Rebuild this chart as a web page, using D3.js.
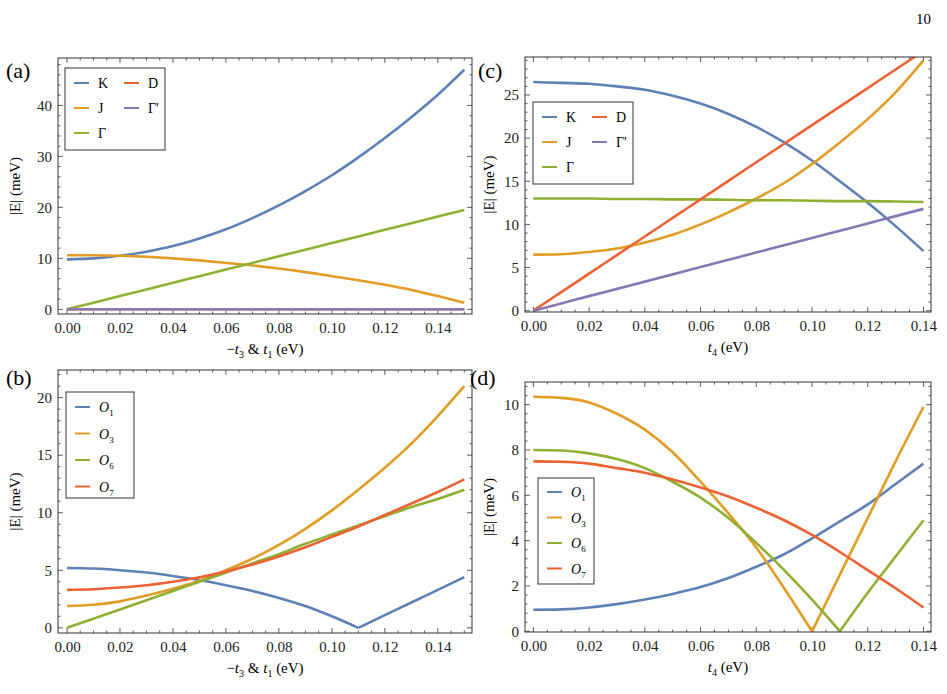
<!DOCTYPE html>
<html><head><meta charset="utf-8">
<script src="https://cdn.jsdelivr.net/npm/d3@7"></script>
<style>body{margin:0;background:#fff}svg text{font-family:"Liberation Serif","DejaVu Serif",serif !important}</style>
</head><body><svg id="c" width="947" height="694"></svg>
<script>
const colors=["#5E81B5","#E19C24","#8FB032","#EB6235","#8778B3"];
const xA=d3.range(16).map(i=>i/100);
const xC=d3.range(15).map(i=>i/100);
// panel (a)
const aK=[9.8,10.0,10.5,11.3,12.4,13.9,15.7,17.9,20.4,23.2,26.3,29.8,33.6,37.7,42.1,47.0];
const aJ=[10.6,10.6,10.5,10.3,10.0,9.6,9.1,8.6,8.0,7.3,6.5,5.7,4.8,3.8,2.6,1.3];
const aG=[0,1.3,2.6,3.9,5.2,6.5,7.8,9.1,10.4,11.7,13.0,14.3,15.6,16.9,18.2,19.5];
const aD=[0,0,0,0,0,0,0,0,0,0,0,0,0,0,0,0];
const aGp=[0,0,0,0,0,0,0,0,0,0,0,0,0,0,0,0];
// panel (b)
const bO1=[5.2,5.15,5.0,4.8,4.5,4.15,3.7,3.2,2.6,1.9,1.0,0,1.1,2.2,3.3,4.4];
const bO3=[1.9,2.0,2.3,2.8,3.4,4.1,5.0,6.0,7.2,8.6,10.2,12.0,13.9,16.0,18.4,21.0];
const bO6=[0,0.8,1.6,2.4,3.2,4.0,4.8,5.6,6.4,7.3,8.1,8.9,9.7,10.5,11.2,12.0];
const bO7=[3.3,3.35,3.5,3.7,4.0,4.4,4.9,5.5,6.2,7.0,7.9,8.8,9.8,10.8,11.8,12.9];
// panel (c)
const cK=[26.5,26.4,26.3,26.0,25.6,24.9,24.0,22.8,21.3,19.5,17.4,15.0,12.5,9.8,6.9];
const cJ=[6.5,6.55,6.8,7.2,7.9,8.8,10.0,11.4,13.0,14.8,17.0,19.5,22.2,25.3,29.0];
const cG=[13.0,13.0,13.0,12.95,12.95,12.9,12.9,12.85,12.8,12.8,12.75,12.7,12.7,12.65,12.6];
const cD=[0,2.15,4.3,6.45,8.6,10.75,12.9,15.05,17.2,19.35,21.5,23.65,25.8,27.95,30.1];
const cGp=[0,0.84,1.69,2.53,3.37,4.21,5.06,5.9,6.74,7.59,8.43,9.27,10.11,10.96,11.8];
// panel (d)
const dO1=[0.95,0.97,1.05,1.2,1.4,1.65,1.95,2.35,2.85,3.4,4.1,4.85,5.6,6.5,7.4];
const dO3=[10.35,10.3,10.1,9.6,8.9,7.9,6.6,5.2,3.7,1.9,0,2.5,5.0,7.5,9.9];
const dO6=[8.0,7.98,7.85,7.6,7.2,6.6,5.9,5.0,3.9,2.7,1.4,0,1.7,3.3,4.9];
const dO7=[7.5,7.48,7.4,7.2,7.0,6.7,6.35,5.95,5.45,4.9,4.25,3.5,2.7,1.9,1.05];
const xTicks=[0,0.02,0.04,0.06,0.08,0.10,0.12,0.14];
const legA=["K","J","Γ","D","Γ'"], legO=["O1","O3","O6","O7"];

const svg=d3.select("#c");
svg.append("text").attr("x",931).attr("y",24).attr("font-size",15).attr("text-anchor","end").text("10");
let cid=0;
function panel(o){
  const g=svg.append("g");
  const x=d3.scaleLinear().domain(o.xd).range([o.l,o.r]);
  const y=d3.scaleLinear().domain(o.yd).range([o.b,o.t]);
  const id="clip"+(cid++);
  g.append("clipPath").attr("id",id).append("rect").attr("x",o.l).attr("y",o.t).attr("width",o.r-o.l).attr("height",o.b-o.t);
  const xmin=d3.range(0,0.1501,0.005).filter(v=>v>=o.xd[0]&&v<=o.xd[1]);
  const ymin=d3.range(0,o.yd[1],o.ymin).filter(v=>v>=o.yd[0]);
  const tk=g.append("g").attr("stroke","#333").attr("stroke-width",0.8);
  xmin.forEach(v=>{const maj=Math.abs(v*50-Math.round(v*50))<1e-6;const L=maj?5:2.5;
    tk.append("line").attr("x1",x(v)).attr("x2",x(v)).attr("y1",o.b).attr("y2",o.b-L);
    tk.append("line").attr("x1",x(v)).attr("x2",x(v)).attr("y1",o.t).attr("y2",o.t+L);});
  ymin.forEach(v=>{const maj=o.yt.some(t=>Math.abs(t-v)<1e-6);const L=maj?5:2.5;
    tk.append("line").attr("y1",y(v)).attr("y2",y(v)).attr("x1",o.l).attr("x2",o.l+L);
    tk.append("line").attr("y1",y(v)).attr("y2",y(v)).attr("x1",o.r).attr("x2",o.r-L);});
  const xa=d3.axisBottom(x).tickValues(o.xt).tickFormat(d3.format(".2f")).tickSize(0).tickPadding(8);
  g.append("g").attr("transform",`translate(0,${o.b})`).call(xa).call(s=>s.select(".domain").remove()).selectAll("text").attr("font-size",15).attr("fill","#222");
  const ya=d3.axisLeft(y).tickValues(o.yt).tickFormat(d3.format("d")).tickSize(0).tickPadding(6);
  g.append("g").attr("transform",`translate(${o.l},0)`).call(ya).call(s=>s.select(".domain").remove()).selectAll("text").attr("font-size",15).attr("fill","#222");
  const line=d3.line().x(d=>x(o.xs[d[0]])).y(d=>y(d[1])).curve(d3.curveMonotoneX);
  const lg=g.append("g").attr("clip-path",`url(#${id})`);
  o.series.forEach((s,i)=>{
    // split at interior zeros so V-shaped kinks stay sharp
    let parts=[[]];
    s.forEach((v,j)=>{parts[parts.length-1].push([j,v]);
      if(v===0&&j>0&&j<s.length-1&&s[j-1]>0&&s[j+1]>0)parts.push([[j,v]]);});
    parts.forEach(p=>lg.append("path").attr("d",line(p)).attr("fill","none").attr("stroke",o.cols[i]).attr("stroke-width",2.6).attr("stroke-linejoin","round"));
  });
  g.append("rect").attr("x",o.l).attr("y",o.t).attr("width",o.r-o.l).attr("height",o.b-o.t).attr("fill","none").attr("stroke","#333").attr("stroke-width",1);
  g.append("text").attr("x",o.pl[0]).attr("y",o.pl[1]).attr("font-size",22).text(o.name);
  g.append("text").attr("transform",`translate(${o.yl},${(o.t+o.b)/2}) rotate(-90)`).attr("text-anchor","middle").attr("font-size",15).text("|E| (meV)");
  const xl=g.append("text").attr("x",(o.l+o.r)/2).attr("y",o.b+40).attr("text-anchor","middle").attr("font-size",15);
  if(o.xlab==="t3"){xl.append("tspan").text("−");xl.append("tspan").attr("font-style","italic").text("t");xl.append("tspan").attr("font-size",10).attr("dy",4).text("3");
    xl.append("tspan").attr("dy",-4).text(" & ");xl.append("tspan").attr("font-style","italic").text("t");xl.append("tspan").attr("font-size",10).attr("dy",4).text("1");xl.append("tspan").attr("dy",-4).text(" (eV)");}
  else{xl.append("tspan").attr("font-style","italic").text("t");xl.append("tspan").attr("font-size",10).attr("dy",4).text("4");xl.append("tspan").attr("dy",-4).text(" (eV)");}
  const L=o.leg;
  g.append("rect").attr("x",L.x).attr("y",L.y).attr("width",L.w).attr("height",L.h).attr("fill","#fff").attr("stroke","#333");
  L.items.forEach((it,i)=>{
    const cx=L.x+9+it.col*L.cw, cy=L.y+L.dy0+it.row*L.dy;
    g.append("line").attr("x1",cx).attr("x2",cx+15).attr("y1",cy).attr("y2",cy).attr("stroke",o.cols[i]).attr("stroke-width",2);
    const t=g.append("text").attr("x",cx+24).attr("y",cy+5).attr("font-size",14);
    if(it.lab[0]==="O"){t.append("tspan").attr("font-style","italic").text("O");t.append("tspan").attr("font-size",9).attr("dy",4).text(it.lab.slice(1));}
    else t.text(it.lab);
  });
}
const colA=[colors[0],colors[1],colors[2],colors[3],colors[4]];
const itemsA=[{lab:legA[0],row:0,col:0},{lab:legA[1],row:1,col:0},{lab:legA[2],row:2,col:0},{lab:legA[3],row:0,col:1},{lab:legA[4],row:1,col:1}];
const itemsO=legO.map((l,i)=>({lab:l,row:i,col:0}));
panel({name:"(a)",pl:[6,78],l:58,r:472,t:58,b:314,xd:[-0.0034,0.1529],yd:[-0.92,49.3],xs:xA,xt:xTicks,yt:[0,10,20,30,40],ymin:2,
  series:[aK,aJ,aG,aD,aGp],cols:colA,yl:20,xlab:"t3",leg:{x:65,y:68,w:100,h:82,dy0:15,dy:25,cw:50,items:itemsA}});
panel({name:"(b)",pl:[6,385],l:58,r:472,t:370,b:633,xd:[-0.0034,0.1529],yd:[-0.45,22.4],xs:xA,xt:xTicks,yt:[0,5,10,15,20],ymin:1,
  series:[bO1,bO3,bO6,bO7],cols:[colors[0],colors[1],colors[2],colors[3]],yl:20,xlab:"t3",leg:{x:66,y:392,w:68,h:106,dy0:15,dy:26.5,cw:0,items:itemsO}});
panel({name:"(c)",pl:[478,78],l:525,r:931,t:57,b:312,xd:[-0.003,0.1427],yd:[-0.15,29.4],xs:xC,xt:xTicks,yt:[0,5,10,15,20,25],ymin:1,
  series:[cK,cJ,cG,cD,cGp],cols:colA,yl:494,xlab:"t4",leg:{x:533,y:102,w:100,h:82,dy0:15,dy:25,cw:50,items:itemsA}});
panel({name:"(d)",pl:[470,385],l:525,r:931,t:382,b:632,xd:[-0.003,0.1427],yd:[-0.03,11.0],xs:xC,xt:xTicks,yt:[0,2,4,6,8,10],ymin:0.4,
  series:[dO1,dO3,dO6,dO7],cols:[colors[0],colors[1],colors[2],colors[3]],yl:494,xlab:"t4",leg:{x:538,y:478,w:56,h:106,dy0:14,dy:25.5,cw:0,items:itemsO}});
</script></body></html>
